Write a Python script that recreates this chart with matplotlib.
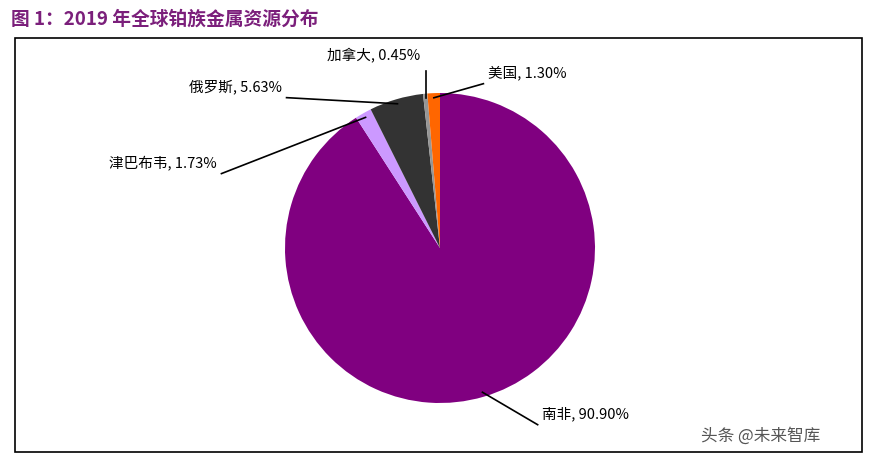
import numpy as np
import matplotlib.pyplot as plt
from matplotlib.patches import Rectangle

plt.rcParams['font.family'] = ['Noto Sans CJK SC', 'DejaVu Sans']

# data
names = ['南非', '津巴布韦', '俄罗斯', '加拿大', '美国']
shares = [90.90, 1.73, 5.63, 0.45, 1.30]
colors = ['#800080', '#cc99ff', '#333333', '#969696', '#ff6600']

# label text positions (data units, pie radius 1) and alignment
label_pos = [(0.66, -1.07, 'left'), (-1.44, 0.55, 'right'), (-1.02, 1.04, 'right'),
             (-0.43, 1.24, 'center'), (0.31, 1.13, 'left')]

fig = plt.figure(figsize=(8.76, 4.57), dpi=100)
fig.text(0.012, 0.958, '图 1：2019 年全球铂族金属资源分布', color='#7b1f7b',
         fontsize=13.5, fontweight='bold', va='center')
fig.add_artist(Rectangle((15 / 876, 5 / 457), 847 / 876, 414 / 457, transform=fig.transFigure,
                         fill=False, edgecolor='black', lw=1.2))

ax = fig.add_axes([(440 - 155) / 876, (209 - 155) / 457, 310 / 876, 310 / 457])
wedges, _ = ax.pie(shares, colors=colors, startangle=90, counterclock=False,
                   wedgeprops=dict(edgecolor='none'))
ax.set_xlim(-1, 1)
ax.set_ylim(-1, 1)
ax.set_aspect('equal')
ax.axis('off')

for w, name, val, (tx, ty, ha) in zip(wedges, names, shares, label_pos):
    ang = np.deg2rad((w.theta1 + w.theta2) / 2)
    ex, ey = 0.97 * np.cos(ang), 0.97 * np.sin(ang)
    if ha == 'left':
        lx = tx - 0.03
    elif ha == 'right':
        lx = tx + 0.03
    else:
        lx = ex
    ly = ty - 0.07 if ha != 'center' else ty - 0.1
    ax.plot([ex, lx], [ey, ly], color='black', lw=1.2, clip_on=False)
    ax.text(tx, ty, '%s, %.2f%%' % (name, val), ha=ha, va='center', fontsize=10.5,
            clip_on=False)

fig.text(0.80, 0.045, '头条 @未来智库', color='#555555', fontsize=12, va='center')

fig.savefig('out.png', dpi=100)
